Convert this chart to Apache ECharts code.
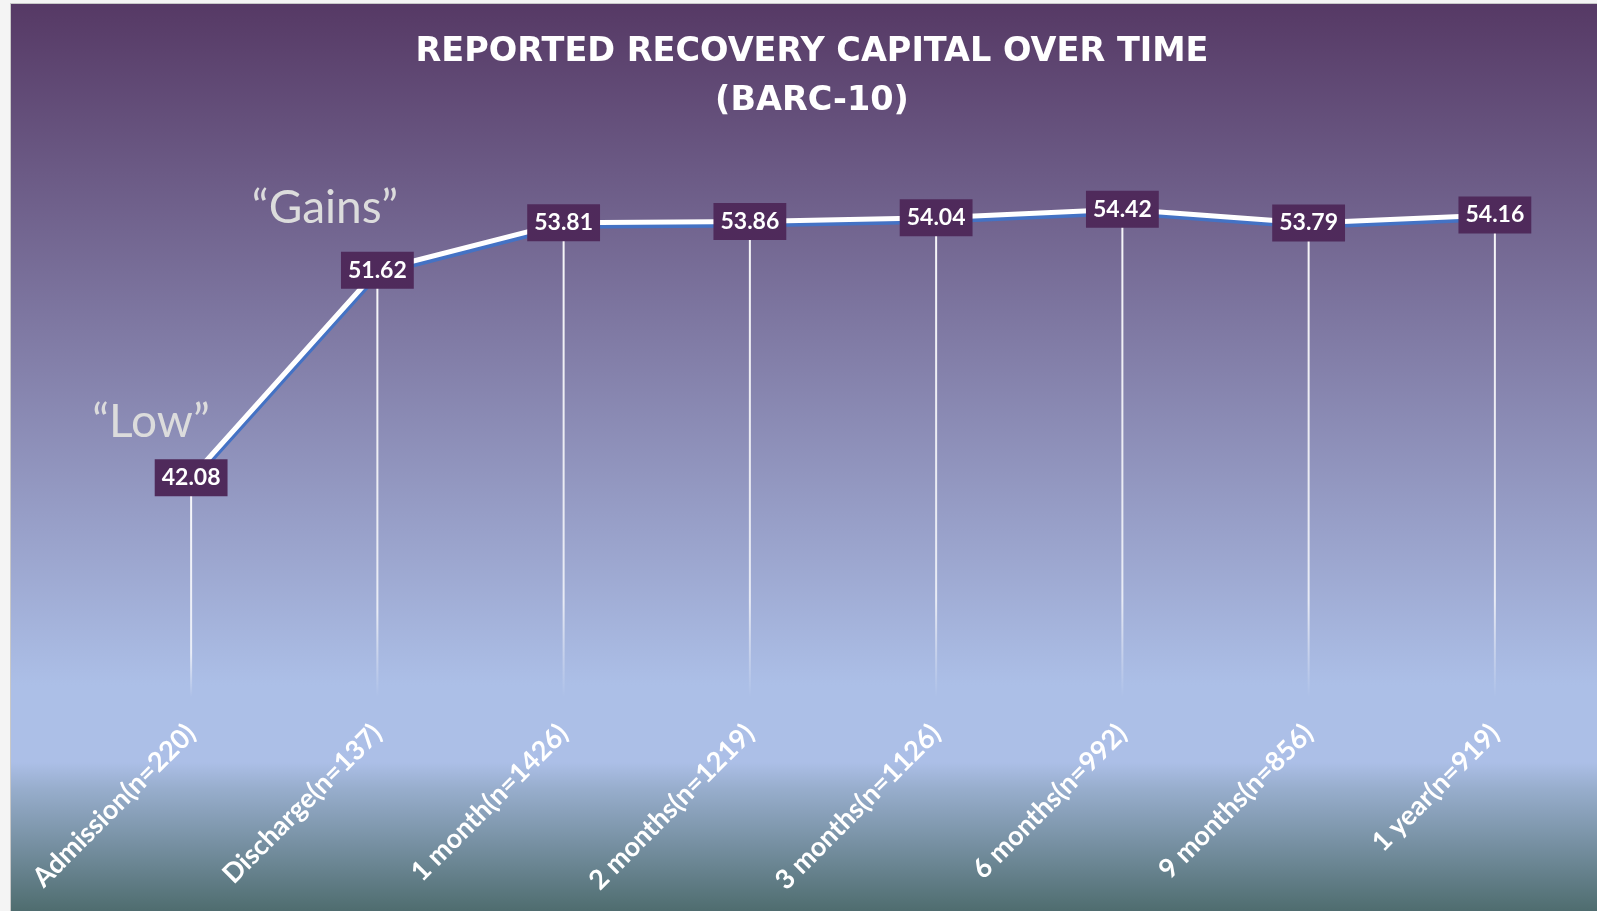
<!DOCTYPE html>
<html>
<head>
<meta charset="utf-8" />
<title>Reported Recovery Capital Over Time</title>
<script src="https://cdn.jsdelivr.net/npm/echarts@6/dist/echarts.min.js"></script>
<style>
html,
body {
  margin: 0;
  padding: 0;
  background: #f4f4f4;
}
.chart-container {
  position: absolute;
  left: 10px;
  top: 3px;
  width: 1587px;
  height: 908px;
  border-left: 1px solid #c8c8c8;
  border-top: 1px solid #c8c8c8;
}
</style>
</head>
<body>
<div class="chart-container" id="main"></div>
<script>
let categories = [
  "Admission(n=220)",
  "Discharge(n=137)",
  "1 month(n=1426)",
  "2 months(n=1219)",
  "3 months(n=1126)",
  "6 months(n=992)",
  "9 months(n=856)",
  "1 year(n=919)",
];
let barcScores = [42.08, 51.62, 53.81, 53.86, 54.04, 54.42, 53.79, 54.16];
let titleLines = ["REPORTED RECOVERY CAPITAL OVER TIME", "(BARC-10)"];
let notes = ["\u201cLow\u201d", "\u201cGains\u201d"];

let chartInstance = echarts.init(document.getElementById("main"));

let initOption = {
  backgroundColor: {
    type: "linear",
    x: 0,
    y: 0,
    x2: 0,
    y2: 1,
    colorStops: [
      { offset: 0, color: "#563965" },
      { offset: 0.75, color: "#acbfe7" },
      { offset: 0.835, color: "#acbfe7" },
      { offset: 0.865, color: "#97adcc" },
      { offset: 1, color: "#4e6c6e" },
    ],
  },
  animation: false,
  grid: {
    left: 87,
    right: 10,
    top: 171,
    bottom: 215,
    containLabel: false,
  },
  xAxis: {
    type: "category",
    data: categories,
    axisLine: { show: false },
    axisTick: { show: false },
    axisLabel: {
      interval: 0,
      rotate: 45,
      margin: 32,
      color: "#ffffff",
      fontFamily: "Lato",
      fontWeight: "bold",
      fontSize: 27,
    },
  },
  yAxis: {
    type: "value",
    min: 32,
    max: 56,
    show: false,
    splitLine: { show: false },
  },
  graphic: [
    {
      type: "text",
      x: 801,
      y: 48,
      style: {
        text: titleLines[0],
        fill: "#ffffff",
        font: "bold 33.5px 'DejaVu Sans'",
        textAlign: "center",
        textVerticalAlign: "middle",
      },
    },
    {
      type: "text",
      x: 801,
      y: 97,
      style: {
        text: titleLines[1],
        fill: "#ffffff",
        font: "bold 33.5px 'DejaVu Sans'",
        textAlign: "center",
        textVerticalAlign: "middle",
      },
    },
    {
      type: "text",
      x: 140,
      y: 418,
      style: {
        text: notes[0],
        fill: "#dcdcdc",
        font: "46px Lato",
        textAlign: "center",
        textVerticalAlign: "middle",
      },
    },
    {
      type: "text",
      x: 314,
      y: 204,
      style: {
        text: notes[1],
        fill: "#dcdcdc",
        font: "46px Lato",
        textAlign: "center",
        textVerticalAlign: "middle",
      },
    },
  ],
  series: [
    {
      // drop lines
      name: "drop",
      type: "bar",
      barWidth: 2,
      z: 1,
      data: barcScores,
      itemStyle: {
        color: {
          type: "linear",
          x: 0,
          y: 0,
          x2: 0,
          y2: 1,
          colorStops: [
            { offset: 0, color: "rgba(255,255,255,0.95)" },
            { offset: 0.8, color: "rgba(255,255,255,0.75)" },
            { offset: 1, color: "rgba(255,255,255,0)" },
          ],
        },
      },
    },
    {
      name: "BARC-10",
      type: "line",
      z: 3,
      data: barcScores,
      symbol: "circle",
      symbolSize: 1,
      itemStyle: { color: "#ffffff" },
      lineStyle: {
        color: "#ffffff",
        width: 5,
        shadowColor: "#4472c4",
        shadowBlur: 0,
        shadowOffsetX: 1,
        shadowOffsetY: 3.5,
      },
      label: {
        show: true,
        position: "inside",
        color: "#ffffff",
        fontFamily: "Lato",
        fontWeight: "bold",
        fontSize: 23,
        lineHeight: 23,
        backgroundColor: "#4f2a5b",
        padding: [7, 7, 7, 7],
        formatter: function (p) {
          return p.value.toFixed(2);
        },
      },
    },
  ],
};
chartInstance.setOption(initOption);
</script>
</body>
</html>
